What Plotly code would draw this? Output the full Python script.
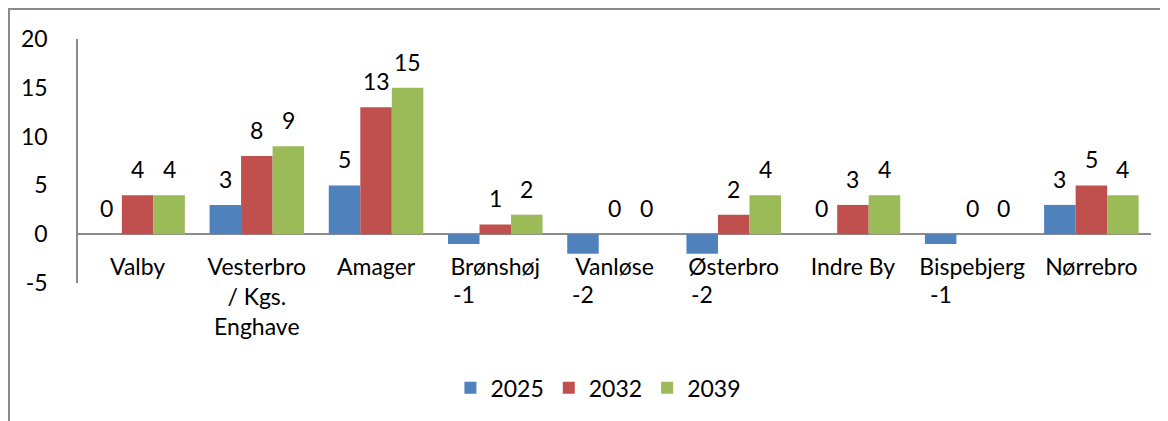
import plotly.graph_objects as go

categories = ["Valby", "Vesterbro<br>/ Kgs.<br>Enghave", "Amager", "Brønshøj", "Vanløse",
              "Østerbro", "Indre By", "Bispebjerg", "Nørrebro"]
series_names = ["2025", "2032", "2039"]
values_2025 = [0, 3, 5, -1, -2, -2, 0, -1, 3]
values_2032 = [4, 8, 13, 1, 0, 2, 3, 0, 5]
values_2039 = [4, 9, 15, 2, 0, 4, 4, 0, 4]
y_ticks = [-5, 0, 5, 10, 15, 20]
y_tick_labels = ["-5", "0", "5", "10", "15", "20"]
colors = ["#4F81BD", "#C0504D", "#9BBB59"]

series_values = [values_2025, values_2032, values_2039]

# page body has an 8px margin, so the figure starts at (8, 8)
W, H = 1160, 413
ML, MR, MT, MB = 70, 17, 31, 138
BARGAP = 0.207
FONT = "Lato"
FS = 23
plot_w = W - ML - MR
plot_h = H - MT - MB
cat_w = plot_w / len(categories)
bar_w = cat_w * (1 - BARGAP) / 3

fig = go.Figure()
for name, vals, col in zip(series_names, series_values, colors):
    fig.add_trace(go.Bar(x=categories, y=vals, name=name, marker_color=col,
                         marker_line_width=0))

annotations = []
for i, vals in enumerate(series_values):
    for c, v in zip(categories, vals):
        if v >= 0:
            annotations.append(dict(x=c, y=v, xref="x", yref="y", text=str(v),
                                    showarrow=False, xshift=(i - 1) * bar_w,
                                    yshift=26, yanchor="middle",
                                    font=dict(family=FONT, size=FS, color="#000")))
        else:
            annotations.append(dict(x=c, y=-5, xref="x", yref="y", text=str(v),
                                    showarrow=False, xshift=(i - 1) * bar_w,
                                    yshift=-11, yanchor="middle",
                                    font=dict(family=FONT, size=FS, color="#000")))

y0_frac = 5 / 25.0
fig.update_layout(
    width=W, height=H,
    margin=dict(l=ML, r=MR, t=MT, b=MB, autoexpand=False),
    paper_bgcolor="white", plot_bgcolor="white",
    barmode="group", bargap=BARGAP, bargroupgap=0,
    font=dict(family=FONT, size=FS, color="#000"),
    xaxis=dict(anchor="free", position=y0_frac, showline=False, ticks="",
               showgrid=False, zeroline=False, tickfont=dict(size=FS),
               ticklabelstandoff=17),
    yaxis=dict(range=[-5, 20], tickvals=y_ticks, ticktext=y_tick_labels,
               showgrid=False, zeroline=True,
               zerolinecolor="#8C8C8C", zerolinewidth=1.5,
               showline=True, linecolor="#8C8C8C", linewidth=1.5,
               ticks="", ticklabelstandoff=24, tickfont=dict(size=FS)),
    legend=dict(orientation="h", x=0.485, xanchor="center", y=-0.43, yanchor="middle",
                font=dict(size=FS), itemclick=False),
    annotations=annotations,
    showlegend=True,
)

# chart-area border (top and left edges visible)
bx = 0 - ML / plot_w
by = (H - MB) / plot_h
fig.add_shape(type="line", xref="paper", yref="paper", x0=bx, x1=(W - ML) / plot_w,
              y0=by - 1 / plot_h, y1=by - 1 / plot_h, line=dict(color="#8A8A8A", width=2))
fig.add_shape(type="line", xref="paper", yref="paper", x0=bx + 1 / plot_w, x1=bx + 1 / plot_w,
              y0=by, y1=-MB / plot_h, line=dict(color="#8A8A8A", width=2))

fig.write_html("out.html")
